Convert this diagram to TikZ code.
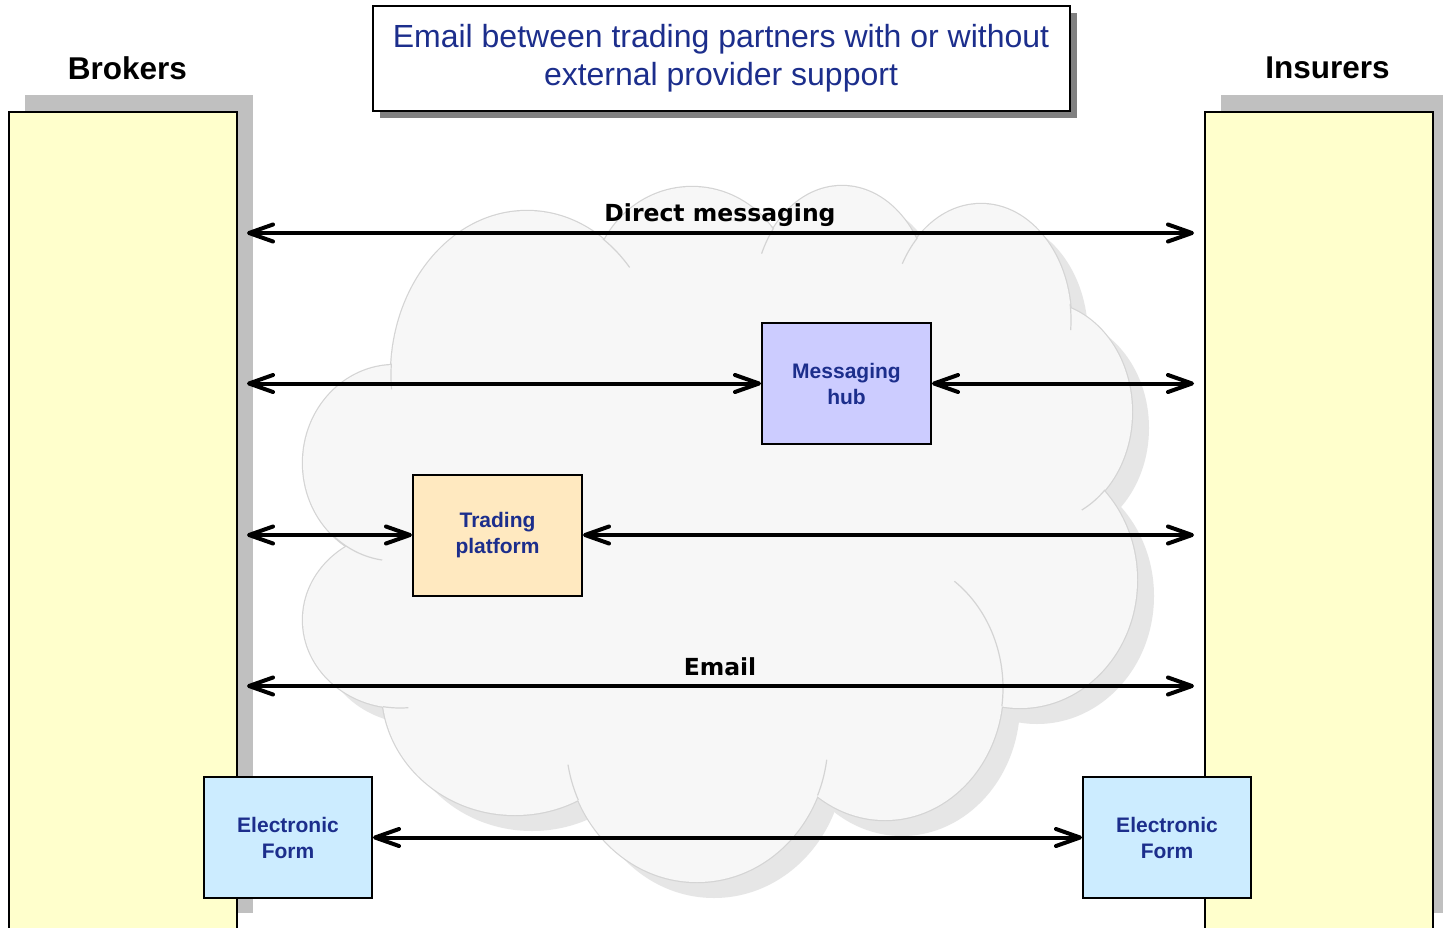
\documentclass[tikz,border=0pt]{standalone}
\usepackage{fontspec}
\setmainfont{Liberation Sans}
\newfontfamily\dejavufont{DejaVu Sans}
\usetikzlibrary{arrows.meta,shadows}
\definecolor{txtblue}{RGB}{28,46,140}
\definecolor{colyellow}{RGB}{255,255,204}
\definecolor{colshadow}{RGB}{192,192,192}
\definecolor{titleshadow}{RGB}{128,128,128}
\definecolor{hubfill}{RGB}{204,204,255}
\definecolor{tradefill}{RGB}{255,233,192}
\definecolor{formfill}{RGB}{204,236,255}
\definecolor{cloudfill}{RGB}{247,247,247}
\definecolor{cloudline}{RGB}{212,212,212}
\definecolor{cloudshadow}{RGB}{230,230,230}
\newcommand\cloudpuffs[1]{%
  \foreach \cx/\cy/\rx/\ry in {527/375/136/164,692/290/100/103,842/300/88/114,981/320/90/116,1040/412/92/110,1020/580/117/128,885/688/118/132,697/740/131/142,515/690/133/125,400/620/97/88,395/463/92/98}
    {\path[#1] (\cx,\cy) ellipse [x radius=\rx, y radius=\ry];}%
}
\newcommand\puffhint[6]{%
  \draw[cloudline,line width=1.2pt] (#1,#2) ++(#5:#3 and #4) arc[start angle=#5,end angle=#6,x radius=#3,y radius=#4];}
\begin{document}
\begin{tikzpicture}[x=1pt,y=-1pt,
  >={Straight Barb[length=24pt,width=17pt,round]},
  link/.style={line width=4pt,<->},
  colbox/.style={draw=black,line width=2pt,fill=colyellow,outer sep=0pt,anchor=north west,
    minimum width=228pt,minimum height=818pt,inner sep=0pt,
    drop shadow={shadow xshift=16pt,shadow yshift=17pt,fill=colshadow,opacity=1}},
  procbox/.style={draw=black,line width=2pt,minimum width=169pt,minimum height=121pt,inner sep=0pt,
    align=center,text=txtblue,font=\bfseries\fontsize{21pt}{26pt}\selectfont},
  collabel/.style={font=\bfseries\fontsize{31.5pt}{36pt}\selectfont,anchor=base},
  flowlabel/.style={font=\dejavufont\bfseries\fontsize{23.5pt}{28pt}\selectfont,anchor=base},
  titlebox/.style={draw=black,line width=2pt,fill=white,minimum width=697pt,minimum height=105pt,
    align=center,text=txtblue,font=\fontsize{32pt}{38pt}\selectfont,
    drop shadow={shadow xshift=7pt,shadow yshift=-7pt,fill=titleshadow,opacity=1}}
]
\useasboundingbox (0,0) rectangle (1443,928);
\clip (0,0) rectangle (1443,928);
\fill[white] (0,0) rectangle (1443,928);

% cloud
\begin{scope}[shift={(17,16)}]
  \cloudpuffs{fill=cloudshadow}
\end{scope}
\cloudpuffs{draw=cloudline,line width=2.4pt}
\cloudpuffs{fill=cloudfill}
\fill[cloudfill] (720,530) ellipse [x radius=330, y radius=260];
\puffhint{527}{375}{136}{164}{-56}{-41}
\puffhint{527}{375}{136}{164}{-176}{-185}
\puffhint{842}{300}{88}{114}{-141}{-156}
\puffhint{981}{320}{90}{116}{-135}{-151}
\puffhint{981}{320}{90}{116}{-8}{5}
\puffhint{1040}{412}{92}{110}{45}{63}
\puffhint{885}{688}{118}{132}{-54}{8}
\puffhint{697}{740}{131}{142}{23}{8}
\puffhint{697}{740}{131}{142}{155}{170}
\puffhint{400}{620}{97}{88}{100}{85}
\puffhint{395}{463}{92}{98}{132}{98}

% columns
\node[colbox] (brokers) at (9,112) {};
\node[colbox] (insurers) at (1205,112) {};
\node[collabel] (brokerslbl) at (127.5,79.5) {Brokers};
\node[collabel] (insurerslbl) at (1327.5,78.5) {Insurers};

% title
\node[titlebox] (title) at (721,58.5) {Email between trading partners with or without\\external provider support};

% boxes
\node[procbox,fill=hubfill] (hub) at (846.5,383.5) {Messaging\\hub};
\node[procbox,fill=tradefill] (trade) at (497.5,535) {Trading\\platform};
\node[procbox,fill=formfill,minimum width=168pt] (formL) at (288,837.5) {Electronic\\Form};
\node[procbox,fill=formfill,minimum width=168pt] (formR) at (1167,837.5) {Electronic\\Form};

% connectors
\coordinate (bDM) at (247,233);
\coordinate (iDM) at (1194,233);
\coordinate (bHub) at (247,383.5);
\coordinate (iHub) at (1194,383.5);
\coordinate (bTr) at (247,535);
\coordinate (iTr) at (1194,535);
\coordinate (bEm) at (247,686);
\coordinate (iEm) at (1194,686);
\draw[link] (bDM) -- (iDM);
\draw[link] (bHub) -- (hub.west);
\draw[link] (hub.east) -- (iHub);
\draw[link] (bTr) -- (trade.west);
\draw[link] (trade.east) -- (iTr);
\draw[link] (bEm) -- (iEm);
\draw[link] (formL.east) -- (formR.west);

\node[flowlabel] (dmlbl) at (720,222) {Direct messaging};
\node[flowlabel] (emlbl) at (720,675) {Email};
\end{tikzpicture}
\end{document}
